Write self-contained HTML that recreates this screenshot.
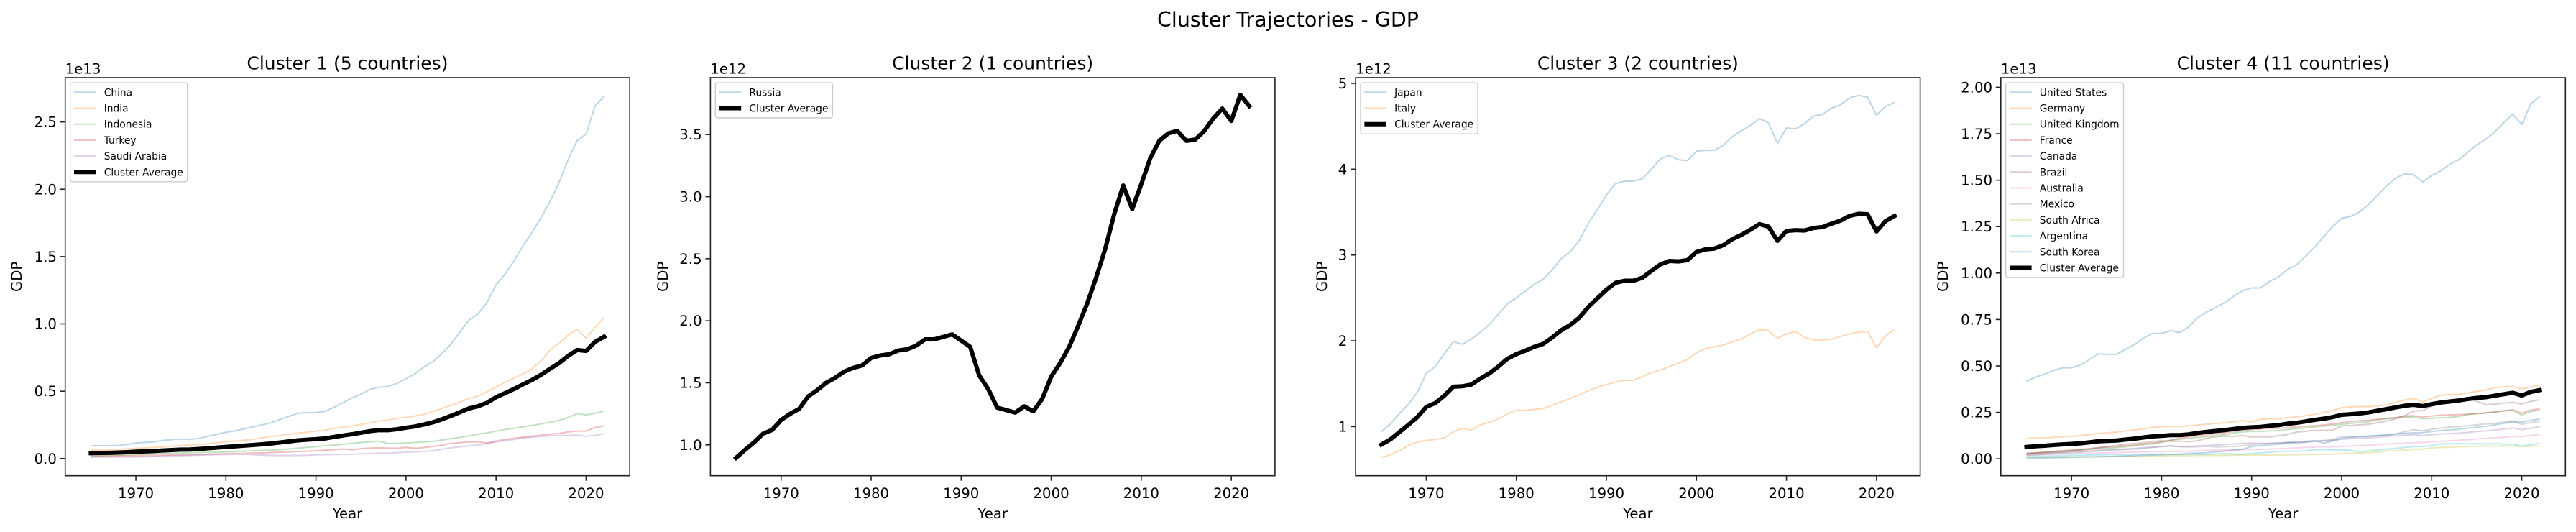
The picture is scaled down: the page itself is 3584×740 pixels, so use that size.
<!DOCTYPE html>
<html><head><meta charset="utf-8">
<style>
html,body{margin:0;padding:0;background:#fff;}
svg{display:block;font-family:"DejaVu Sans","Liberation Sans",sans-serif;}
</style></head>
<body>
<svg id="fig" width="3584" height="740" viewBox="0 0 3584 740" xmlns="http://www.w3.org/2000/svg">
<rect x="0" y="0" width="3584" height="740" fill="#fff"/>
<text x="1792" y="37" font-size="28.5" text-anchor="middle" fill="#000">Cluster Trajectories - GDP</text>
</svg>
<script>
const startYear = 1965;
const endYear = 2022;
const years = [];
for (let y = startYear; y <= endYear; y++) years.push(y);
const xTicks = [1970, 1980, 1990, 2000, 2010, 2020];

// Cluster 1 (units 1e13)
const c1Names = ["China", "India", "Indonesia", "Turkey", "Saudi Arabia"];
const china = [.094,.096,.096,.097,.105,.115,.12,.124,.135,.14,.145,.142,.15,.165,.18,.195,.205,.22,.235,.25,.266,.29,.313,.337,.34,.342,.35,.38,.415,.45,.478,.514,.53,.535,.558,.593,.63,.68,.72,.78,.85,.94,1.03,1.075,1.16,1.29,1.37,1.47,1.58,1.68,1.79,1.91,2.05,2.22,2.36,2.41,2.62,2.69];
const india = [.062,.064,.066,.068,.072,.076,.079,.082,.086,.092,.097,.1,.105,.11,.117,.124,.13,.136,.142,.153,.165,.17,.18,.188,.196,.204,.21,.225,.232,.242,.253,.265,.278,.287,.298,.306,.316,.328,.35,.372,.395,.42,.446,.464,.496,.531,.567,.597,.629,.668,.726,.806,.855,.916,.96,.894,.974,1.05];
const indonesia = [.018,.02,.022,.025,.027,.03,.032,.034,.037,.039,.041,.043,.045,.046,.047,.048,.051,.054,.057,.06,.062,.066,.071,.077,.083,.089,.095,.1,.106,.113,.119,.125,.129,.112,.113,.115,.119,.123,.128,.137,.147,.157,.168,.18,.19,.204,.215,.225,.235,.246,.257,.27,.283,.305,.333,.324,.336,.354];
const turkey = [.018,.019,.019,.02,.02,.021,.022,.023,.024,.026,.027,.028,.03,.032,.033,.035,.036,.038,.04,.042,.044,.047,.05,.052,.055,.058,.062,.066,.071,.065,.074,.077,.08,.078,.076,.083,.076,.082,.09,.1,.112,.118,.124,.124,.115,.129,.142,.15,.159,.166,.174,.18,.186,.198,.204,.204,.23,.244];
const saudiArabia = [.009,.01,.01,.011,.011,.012,.013,.015,.017,.019,.021,.023,.025,.027,.029,.03,.031,.031,.028,.025,.023,.022,.022,.022,.024,.027,.029,.03,.031,.032,.035,.037,.039,.04,.043,.048,.05,.053,.058,.068,.08,.087,.094,.1,.112,.124,.133,.142,.152,.159,.164,.168,.17,.172,.174,.165,.172,.186];
const c1YTicks = [0, 0.5, 1.0, 1.5, 2.0, 2.5];
const c1YTickLabels = ["0.0","0.5","1.0","1.5","2.0","2.5"];

// Cluster 2 (units 1e12)
const c2Names = ["Russia"];
const russia = [.895,.96,1.02,1.09,1.12,1.2,1.25,1.29,1.39,1.44,1.5,1.54,1.59,1.62,1.64,1.7,1.72,1.73,1.76,1.77,1.8,1.85,1.85,1.87,1.89,1.84,1.79,1.56,1.45,1.3,1.28,1.26,1.31,1.27,1.37,1.55,1.66,1.79,1.96,2.14,2.35,2.58,2.86,3.09,2.9,3.1,3.31,3.45,3.51,3.53,3.45,3.46,3.53,3.63,3.71,3.61,3.82,3.73];
const c2YTicks = [1.0, 1.5, 2.0, 2.5, 3.0, 3.5];
const c2YTickLabels = ["1.0","1.5","2.0","2.5","3.0","3.5"];

// Cluster 3 (units 1e12)
const c3Names = ["Japan", "Italy"];
const japan = [.94,1.03,1.15,1.26,1.4,1.62,1.7,1.85,1.99,1.96,2.02,2.1,2.19,2.31,2.43,2.5,2.58,2.66,2.72,2.83,2.96,3.04,3.17,3.37,3.53,3.7,3.83,3.86,3.86,3.89,4.0,4.12,4.16,4.11,4.1,4.21,4.22,4.22,4.28,4.38,4.45,4.51,4.59,4.54,4.3,4.48,4.47,4.53,4.62,4.64,4.71,4.75,4.83,4.86,4.84,4.63,4.73,4.78];
const italy = [.64,.67,.72,.78,.82,.84,.85,.87,.94,.98,.96,1.02,1.05,1.09,1.15,1.19,1.19,1.2,1.21,1.25,1.29,1.33,1.37,1.42,1.46,1.49,1.52,1.54,1.54,1.58,1.63,1.66,1.7,1.74,1.78,1.86,1.91,1.93,1.95,1.99,2.02,2.08,2.13,2.12,2.03,2.08,2.11,2.04,2.01,2.01,2.02,2.05,2.08,2.1,2.11,1.92,2.06,2.13];
const c3YTicks = [1, 2, 3, 4, 5];
const c3YTickLabels = ["1","2","3","4","5"];

// Cluster 4 (units 1e13)
const c4Names = ["United States","Germany","United Kingdom","France","Canada","Brazil","Australia","Mexico","South Africa","Argentina","South Korea"];
const unitedStates = [.417,.44,.455,.475,.49,.49,.505,.535,.565,.563,.562,.59,.615,.65,.675,.675,.69,.68,.71,.76,.79,.815,.84,.875,.905,.92,.92,.955,.98,1.02,1.045,1.09,1.14,1.195,1.25,1.295,1.305,1.33,1.37,1.42,1.47,1.51,1.535,1.53,1.49,1.525,1.55,1.585,1.61,1.65,1.69,1.72,1.76,1.81,1.855,1.80,1.91,1.95];
const germany = [.109,.112,.112,.116,.119,.121,.125,.13,.136,.14,.144,.15,.155,.162,.17,.173,.174,.174,.177,.182,.186,.19,.194,.2,.206,.199,.212,.216,.215,.222,.226,.232,.24,.25,.26,.275,.28,.282,.281,.285,.29,.304,.316,.325,.306,.325,.342,.346,.347,.355,.363,.371,.383,.388,.39,.377,.387,.396];
const unitedKingdom = [.03,.032,.035,.038,.042,.045,.048,.051,.056,.058,.06,.065,.07,.075,.08,.09,.1,.105,.11,.115,.12,.125,.13,.138,.145,.148,.147,.15,.152,.158,.162,.167,.172,.176,.181,.186,.19,.195,.2,.21,.215,.22,.225,.225,.216,.218,.221,.223,.228,.238,.243,.248,.252,.258,.262,.236,.254,.262];
const france = [.028,.032,.036,.04,.043,.046,.05,.055,.06,.064,.066,.07,.075,.08,.085,.09,.1,.11,.118,.125,.13,.135,.14,.147,.153,.158,.16,.164,.164,.168,.172,.175,.178,.182,.188,.194,.2,.205,.208,.213,.218,.222,.23,.232,.225,.23,.235,.236,.238,.24,.243,.246,.252,.258,.263,.246,.262,.269];
const canada = [.026,.028,.03,.032,.035,.039,.041,.043,.046,.048,.05,.053,.056,.06,.063,.066,.069,.065,.067,.07,.072,.074,.077,.08,.083,.085,.083,.084,.085,.086,.088,.09,.094,.097,.101,.105,.108,.11,.113,.117,.12,.124,.128,.13,.125,.13,.134,.136,.138,.142,.147,.15,.155,.16,.166,.157,.165,.173];
const brazil = [.026,.029,.032,.035,.038,.042,.047,.053,.06,.066,.072,.078,.082,.087,.093,.098,.094,.095,.092,.097,.111,.119,.122,.121,.125,.118,.119,.118,.124,.131,.144,.148,.153,.153,.154,.177,.179,.183,.186,.195,.203,.215,.233,.256,.26,.282,.296,.302,.315,.321,.31,.292,.295,.3,.304,.295,.309,.318];
const australia = [.02,.021,.022,.024,.026,.027,.029,.03,.031,.032,.033,.035,.036,.037,.038,.039,.04,.04,.041,.043,.045,.046,.047,.048,.049,.05,.05,.052,.054,.056,.059,.061,.063,.064,.065,.066,.069,.071,.074,.077,.079,.082,.085,.087,.088,.092,.094,.097,.1,.103,.107,.11,.113,.116,.12,.12,.126,.131];
const mexico = [.02,.022,.025,.028,.031,.034,.036,.039,.042,.045,.048,.05,.052,.056,.061,.066,.071,.066,.063,.065,.067,.064,.065,.067,.071,.075,.08,.083,.085,.09,.084,.089,.095,.099,.102,.12,.119,.119,.12,.124,.128,.135,.145,.157,.151,.159,.165,.171,.173,.178,.183,.188,.192,.197,.203,.186,.195,.202];
const southAfrica = [.007,.008,.008,.009,.009,.01,.011,.011,.012,.012,.013,.013,.013,.014,.015,.016,.017,.017,.017,.018,.018,.018,.018,.019,.02,.02,.02,.02,.02,.021,.022,.023,.024,.024,.025,.029,.03,.031,.033,.036,.042,.044,.047,.052,.052,.059,.061,.062,.064,.066,.068,.068,.069,.069,.069,.066,.068,.069];
const argentina = [.013,.014,.014,.015,.016,.018,.019,.02,.021,.022,.022,.022,.024,.024,.026,.026,.024,.023,.024,.025,.024,.026,.027,.026,.024,.029,.032,.036,.04,.042,.041,.044,.048,.05,.048,.048,.045,.039,.043,.047,.052,.056,.061,.066,.066,.072,.081,.08,.082,.08,.082,.08,.082,.079,.079,.069,.076,.083];
const southKorea = [.003,.004,.005,.006,.007,.008,.009,.01,.011,.012,.013,.015,.017,.019,.02,.022,.024,.026,.029,.031,.033,.037,.041,.046,.051,.066,.071,.075,.079,.086,.092,.094,.098,.085,.095,.111,.116,.12,.123,.126,.128,.133,.137,.14,.141,.147,.152,.155,.159,.165,.17,.176,.183,.191,.2,.197,.207,.214];
const c4YTicks = [0, 0.25, 0.5, 0.75, 1.0, 1.25, 1.5, 1.75, 2.0];
const c4YTickLabels = ["0.00","0.25","0.50","0.75","1.00","1.25","1.50","1.75","2.00"];

const palette = ["#1f77b4","#ff7f0e","#2ca02c","#d62728","#9467bd","#8c564b","#e377c2","#7f7f7f","#bcbd22","#17becf"];
const NS = "http://www.w3.org/2000/svg";
const fig = document.getElementById("fig");

function mk(tag, attrs, parent) {
  const e = document.createElementNS(NS, tag);
  for (const k in attrs) e.setAttribute(k, attrs[k]);
  (parent || fig).appendChild(e);
  return e;
}
function avgOf(series) {
  return years.map((_, i) => series.reduce((s, a) => s + a[i], 0) / series.length);
}

const panels = [
  {title:"Cluster 1 (5 countries)", exp:"1e13", names:c1Names, series:[china,india,indonesia,turkey,saudiArabia], ticks:c1YTicks, labels:c1YTickLabels, ylim:[-0.1276,2.829], gdpX:23},
  {title:"Cluster 2 (1 countries)", exp:"1e12", names:c2Names, series:[russia], ticks:c2YTicks, labels:c2YTickLabels, ylim:[0.7514,3.959], gdpX:922},
  {title:"Cluster 3 (2 countries)", exp:"1e12", names:c3Names, series:[japan,italy], ticks:c3YTicks, labels:c3YTickLabels, ylim:[0.4277,5.067], gdpX:1839},
  {title:"Cluster 4 (11 countries)", exp:"1e13", names:c4Names, series:[unitedStates,germany,unitedKingdom,france,canada,brazil,australia,mexico,southAfrica,argentina,southKorea], ticks:c4YTicks, labels:c4YTickLabels, ylim:[-0.091,2.052], gdpX:2703}
];

const AX_TOP = 108, AX_BOT = 661.7, AX_W = 785.5;
const XMIN = 1962.15, XMAX = 2024.85;

panels.forEach((p, pi) => {
  const L = 90.7 + pi * 897.7;
  const g = mk("g", {});
  
  
  const xs = v => L + (v - XMIN) / (XMAX - XMIN) * AX_W;
  const ys = v => AX_BOT - (v - p.ylim[0]) / (p.ylim[1] - p.ylim[0]) * (AX_BOT - AX_TOP);

  // series lines
  p.series.forEach((s, si) => {
    const d = s.map((v, i) => (i ? "L" : "M") + xs(years[i]).toFixed(2) + "," + ys(v).toFixed(2)).join("");
    const path = mk("path", {d:d, fill:"none", stroke:palette[si % 10], "stroke-opacity":"0.3", "stroke-width":"2", "stroke-linejoin":"round"}, g);
    
    
  });
  const avg = avgOf(p.series);
  const ad = avg.map((v, i) => (i ? "L" : "M") + xs(years[i]).toFixed(2) + "," + ys(v).toFixed(2)).join("");
  const ap = mk("path", {d:ad, fill:"none", stroke:"#000", "stroke-width":"6", "stroke-linejoin":"round", "stroke-linecap":"square"}, g);
  
  

  // frame
  const fr = mk("rect", {x:L, y:AX_TOP, width:AX_W, height:AX_BOT - AX_TOP, fill:"none", stroke:"#222", "stroke-width":"1.6"}, g);
  
  

  // x ticks
  xTicks.forEach(t => {
    const x = xs(t);
    const tl = mk("line", {x1:x, x2:x, y1:AX_BOT, y2:AX_BOT + 7, stroke:"#222", "stroke-width":"1.6"}, g);
    
    
    const tx = mk("text", {x:x, y:693, "font-size":"19.7", "text-anchor":"middle", fill:"#000"}, g);
    tx.textContent = t;
    
    
  });
  // y ticks
  p.ticks.forEach((t, ti) => {
    const y = ys(t);
    const tl = mk("line", {x1:L - 7, x2:L, y1:y, y2:y, stroke:"#222", "stroke-width":"1.6"}, g);
    
    
    const tx = mk("text", {x:L - 11.8, y:y + 7, "font-size":"19.7", "text-anchor":"end", fill:"#000"}, g);
    tx.textContent = p.labels[ti];
    
    
  });
  // offset text
  const ot = mk("text", {x:L, y:102.5, "font-size":"19.7", fill:"#000"}, g);
  ot.textContent = p.exp;
  
  
  // title
  const tt = mk("text", {x:L + AX_W / 2, y:96.5, "font-size":"25", "text-anchor":"middle", fill:"#000"}, g);
  tt.textContent = p.title;
  
  
  // axis labels
  const xl = mk("text", {x:L + AX_W / 2, y:721, "font-size":"19.7", "text-anchor":"middle", fill:"#000"}, g);
  xl.textContent = "Year";
  
  
  const yl = mk("text", {x:0, y:0, "font-size":"19.7", "text-anchor":"middle", fill:"#000", transform:"translate(" + (p.gdpX + 7) + "," + (AX_TOP + AX_BOT) / 2 + ") rotate(-90)"}, g);
  yl.textContent = "GDP";
  
  

  // legend
  const lg = mk("g", {}, g);
  
  
  const entries = p.names.map((n, i) => ({n:n, c:palette[i % 10], w:2, o:0.3})).concat([{n:"Cluster Average", c:"#000", w:6, o:1}]);
  const boxTop = 115.1, rowH = 22.2;
  const box = mk("rect", {x:L + 6.9, y:boxTop, width:100, height:entries.length * rowH + 4.5, rx:3, fill:"#fff", "fill-opacity":"0.8", stroke:"#ccc", "stroke-width":"1.4"}, lg);
  
  
  let maxW = 0;
  entries.forEach((e, i) => {
    const cy = boxTop + 13.2 + i * rowH;
    const eg = mk("g", {}, lg);
    
    
    mk("line", {x1:L + 12.3, x2:L + 42.8, y1:cy, y2:cy, stroke:e.c, "stroke-opacity":e.o, "stroke-width":e.w}, eg);
    const t = mk("text", {x:L + 54, y:cy + 5, "font-size":"13.8", fill:"#000"}, eg);
    t.textContent = e.n;
    maxW = Math.max(maxW, t.getComputedTextLength());
  });
  box.setAttribute("width", (54 + maxW + 6 - 6.9).toFixed(1));
});
</script>
</body></html>
